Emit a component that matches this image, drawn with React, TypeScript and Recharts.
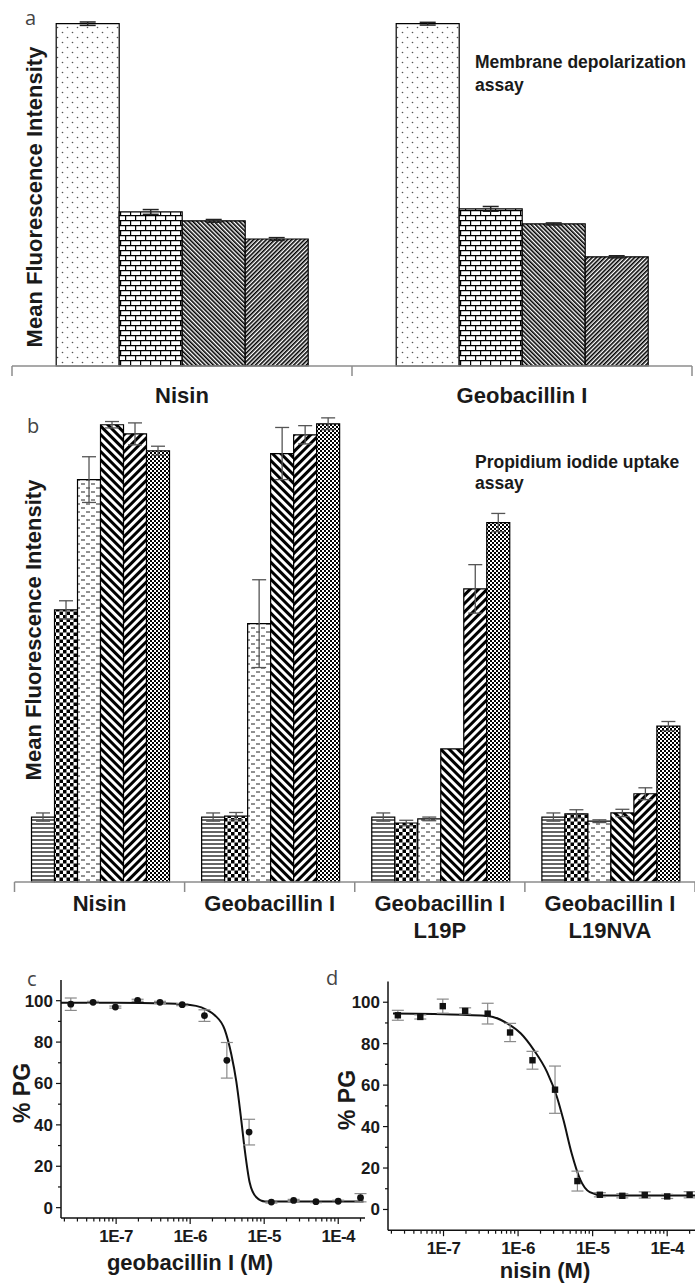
import React from 'react'
import {
  BarChart,
  Bar,
  XAxis,
  YAxis,
  ErrorBar,
  ComposedChart,
  Line,
  Scatter,
} from 'recharts'

const sans = '"Liberation Sans", Arial, Helvetica, sans-serif'
const thin = '"Open Sans", "DejaVu Sans", sans-serif'
const ink = '#1a1a1a'
const grayAxis = '#8c8c8c'

// ---- a: membrane depolarization ----
const catsA = ['Nisin', 'Geobacillin I']
const dotsA = [100, 100]
const dotsErrA = [0.5, 0.4]
const brickA = [45.0, 45.9]
const brickErrA = [0.7, 0.7]
const backA = [42.4, 41.5]
const backErrA = [0.4, 0.3]
const fwdA = [37.1, 31.9]
const fwdErrA = [0.4, 0.3]

// ---- b: propidium iodide uptake ----
const catsB = ['Nisin', 'Geobacillin I', 'Geobacillin I\nL19P', 'Geobacillin I\nL19NVA']
const hLinesB = [14.2, 14.2, 14.2, 14.2]
const hLinesErrB = [0.9, 0.9, 0.9, 0.9]
const checkB = [59.5, 14.4, 12.9, 14.9]
const checkErrB = [2.0, 0.8, 0.6, 0.9]
const dashB = [88.0, 56.5, 13.8, 13.3]
const dashErrB = [5.0, 9.6, 0.4, 0.3]
const backB = [100, 93.7, 29.1, 15.1]
const backErrB = [0.7, 5.7, 0, 0.8]
const fwdB = [98.0, 97.8, 64.1, 19.3]
const fwdErrB = [2.4, 2.0, 5.3, 1.3]
const fineB = [94.3, 100.2, 78.6, 34.1]
const fineErrB = [1.0, 1.3, 2.0, 1.0]

// ---- c / d: % PG vs concentration ----
const concM = [2.44e-8, 4.88e-8, 9.77e-8, 1.95e-7, 3.91e-7, 7.81e-7, 1.56e-6, 3.13e-6, 6.25e-6, 1.25e-5, 2.5e-5, 5e-5, 1e-4, 2e-4]
const pgGeo = [98.3, 99.2, 96.9, 100.2, 99.2, 98.1, 92.8, 71.2, 36.5, 2.7, 3.5, 2.9, 3.1, 4.8]
const pgGeoErr = [3.0, 0.5, 0.5, 0.5, 0.5, 0.5, 2.8, 8.6, 6.2, 0.5, 0.5, 0.5, 0.5, 2.0]
const fitGeoConc = [1.8e-8, 1e-7, 5e-7, 1.2e-6, 1.7e-6, 2.15e-6, 2.93e-6, 3.6e-6, 4.2e-6, 4.82e-6, 5.46e-6, 6.38e-6, 7.84e-6, 1.02e-5, 2e-5, 2.2e-4]
const fitGeoPg = [99.0, 99.0, 98.6, 97.5, 95.5, 93, 86, 74, 61, 44.5, 28, 12, 5, 3, 3, 3]

const pgNis = [93.7, 92.9, 98.1, 95.8, 94.5, 85.4, 72.0, 57.8, 13.7, 7.1, 6.6, 7.0, 6.3, 7.1]
const pgNisErr = [2.4, 1.0, 3.4, 1.5, 5.0, 4.4, 4.3, 11.4, 4.8, 1.0, 1.0, 1.5, 1.0, 1.5]
const fitNisConc = [2.1e-8, 1e-7, 3.94e-7, 7.24e-7, 1.09e-6, 1.63e-6, 2.45e-6, 3.32e-6, 4.07e-6, 5.25e-6, 6.75e-6, 9.16e-6, 1.38e-5, 2.36e-4]
const fitNisPg = [94.5, 94.2, 93.4, 89.7, 84.9, 76.9, 66.3, 54.3, 43, 26.9, 14.8, 8.4, 6.8, 6.8]

const majorX = [1e-7, 1e-6, 1e-5, 1e-4]
const majorXLabels = ['1E-7', '1E-6', '1E-5', '1E-4']
const minorSteps = [2, 3, 4, 5, 6, 7, 8, 9]
const pgTicks = [0, 10, 20, 30, 40, 50, 60, 70, 80, 90, 100]
const xDomain: [number, number] = [1.8e-8, 2.3e-4]

const xTicks = [1e-8, ...majorX]
  .flatMap((d) => [d, ...minorSteps.map((m) => d * m)])
  .filter((v) => v >= xDomain[0] && v <= xDomain[1])
  .sort((p, q) => p - q)

const dataA = catsA.map((name, i) => ({
  name,
  v1: dotsA[i], e1: dotsErrA[i],
  v2: brickA[i], e2: brickErrA[i],
  v3: backA[i], e3: backErrA[i],
  v4: fwdA[i], e4: fwdErrA[i],
}))

const dataB = catsB.map((name, i) => ({
  name,
  v1: hLinesB[i], e1: hLinesErrB[i],
  v2: checkB[i], e2: checkErrB[i],
  v3: dashB[i], e3: dashErrB[i],
  v4: backB[i], e4: backErrB[i],
  v5: fwdB[i], e5: fwdErrB[i],
  v6: fineB[i], e6: fineErrB[i],
}))

const pointsGeo = concM.map((x, i) => ({ x, y: pgGeo[i], err: pgGeoErr[i] }))
const pointsNis = concM.map((x, i) => ({ x, y: pgNis[i], err: pgNisErr[i] }))
const fitGeo = fitGeoConc.map((x, i) => ({ x, y: fitGeoPg[i] }))
const fitNis = fitNisConc.map((x, i) => ({ x, y: fitNisPg[i] }))

const fillsA = ['url(#aDots)', 'url(#aBrick)', 'url(#aBack)', 'url(#aFwd)']
const fillsB = ['url(#bLines)', 'url(#bCheck)', 'url(#bDash)', 'url(#bBack)', 'url(#bFwd)', 'url(#bFine)']

const defsA = (
  <defs>
    <pattern id="aDots" width={10} height={10} patternUnits="userSpaceOnUse">
      <rect width={10} height={10} fill="#fff" />
      <circle cx={2.5} cy={2.5} r={0.8} fill="#555" />
      <circle cx={7.5} cy={7.5} r={0.8} fill="#555" />
    </pattern>
    <pattern id="aBrick" width={10} height={10} patternUnits="userSpaceOnUse">
      <rect width={10} height={10} fill="#fff" />
      <path d="M0 0.6H10M0 5.6H10M0.6 0.6V5.6M5.6 5.6V10" stroke="#000" strokeWidth={1.2} fill="none" />
    </pattern>
    <pattern id="aBack" width={3} height={3} patternUnits="userSpaceOnUse" patternTransform="rotate(-45)">
      <rect width={3} height={3} fill="#fff" />
      <rect width={1.6} height={3} fill="#000" />
    </pattern>
    <pattern id="aFwd" width={3} height={3} patternUnits="userSpaceOnUse" patternTransform="rotate(45)">
      <rect width={3} height={3} fill="#fff" />
      <rect width={1.6} height={3} fill="#000" />
    </pattern>
  </defs>
)

const defsB = (
  <defs>
    <pattern id="bLines" width={4} height={4} patternUnits="userSpaceOnUse">
      <rect width={4} height={4} fill="#fff" />
      <rect y={1.4} width={4} height={1.2} fill="#000" />
    </pattern>
    <pattern id="bCheck" width={7} height={7} patternUnits="userSpaceOnUse">
      <rect width={7} height={7} fill="#fff" />
      <rect width={3.5} height={3.5} fill="#000" />
      <rect x={3.5} y={3.5} width={3.5} height={3.5} fill="#000" />
    </pattern>
    <pattern id="bDash" width={10} height={8} patternUnits="userSpaceOnUse">
      <rect width={10} height={8} fill="#fff" />
      <path d="M1 2H5M6 6H10" stroke="#222" strokeWidth={1} />
    </pattern>
    <pattern id="bBack" width={6} height={6} patternUnits="userSpaceOnUse" patternTransform="rotate(-45)">
      <rect width={6} height={6} fill="#fff" />
      <rect width={3} height={6} fill="#000" />
    </pattern>
    <pattern id="bFwd" width={6} height={6} patternUnits="userSpaceOnUse" patternTransform="rotate(45)">
      <rect width={6} height={6} fill="#fff" />
      <rect width={3} height={6} fill="#000" />
    </pattern>
    <pattern id="bFine" width={4} height={4} patternUnits="userSpaceOnUse">
      <rect width={4} height={4} fill="#fff" />
      <rect width={2} height={2} fill="#000" />
      <rect x={2} y={2} width={2} height={2} fill="#000" />
    </pattern>
  </defs>
)

function BandTick({ x = 0, y = 0, payload, index = 0, band, count, dy, gap }: any) {
  const lines = String(payload?.value ?? '').split('\n')
  const half = band / 2
  return (
    <g>
      <line x1={x - half} x2={x - half} y1={y} y2={y + 10} stroke={grayAxis} strokeWidth={1.5} />
      {index === count - 1 && (
        <line x1={x + half} x2={x + half} y1={y} y2={y + 10} stroke={grayAxis} strokeWidth={1.5} />
      )}
      <text x={x} y={y + dy} textAnchor="middle" fontFamily={sans} fontWeight={700} fontSize={22} fill={ink}>
        {lines.map((l, i) => (
          <tspan key={i} x={x} dy={i === 0 ? 0 : gap}>
            {l}
          </tspan>
        ))}
      </text>
    </g>
  )
}

function LogTick({ x = 0, y = 0, payload }: any) {
  const v = payload?.value ?? 0
  const k = majorX.findIndex((m) => Math.abs(m - v) / m < 1e-6)
  const major = k >= 0
  return (
    <g>
      <line x1={x} x2={x} y1={y} y2={y + (major ? 6 : 3.5)} stroke="#111" strokeWidth={1.2} />
      {major && (
        <text x={x} y={y + 24} textAnchor="middle" fontFamily={sans} fontWeight={700} fontSize={17} letterSpacing={-0.6} fill={ink}>
          {majorXLabels[k]}
        </text>
      )}
    </g>
  )
}

function PgTick({ x = 0, y = 0, payload }: any) {
  const v = payload?.value ?? 0
  const major = v % 20 === 0
  return (
    <g>
      <line x1={x} x2={x - (major ? 5 : 3)} y1={y} y2={y} stroke="#111" strokeWidth={1.2} />
      {major && (
        <text x={x - 8} y={y + 6} textAnchor="end" fontFamily={sans} fontWeight={700} fontSize={17} fill={ink}>
          {v}
        </text>
      )}
    </g>
  )
}

const dot = (p: any) => <circle cx={p.cx} cy={p.cy} r={3.4} fill="#111" />
const square = (p: any) => <rect x={p.cx - 3.2} y={p.cy - 3.2} width={6.4} height={6.4} fill="#111" />

function DoseChart({ points, fit, shape, domainY, width, height, top, xHeight, right }: any) {
  return (
    <ComposedChart width={width} height={height} margin={{ top, right, bottom: 0, left: 0 }}>
      <XAxis
        type="number"
        dataKey="x"
        scale="log"
        domain={xDomain}
        ticks={xTicks}
        interval={0}
        tick={(p: any) => <LogTick {...p} />}
        tickLine={false}
        tickSize={0}
        tickMargin={0}
        height={xHeight}
        axisLine={{ stroke: '#111', strokeWidth: 1.5 }}
      />
      <YAxis
        type="number"
        domain={domainY}
        ticks={pgTicks}
        interval={0}
        tick={(p: any) => <PgTick {...p} />}
        tickLine={false}
        tickSize={0}
        tickMargin={0}
        width={61}
        axisLine={{ stroke: '#111', strokeWidth: 1.5 }}
      />
      <Line data={fit} dataKey="y" type="monotone" stroke="#111" strokeWidth={2} dot={false} isAnimationActive={false} />
      <Scatter data={points} dataKey="y" shape={shape} isAnimationActive={false}>
        <ErrorBar dataKey="err" direction="y" width={6} stroke="#8a8a8a" strokeWidth={1.2} isAnimationActive={false} />
      </Scatter>
    </ComposedChart>
  )
}

const labelText = { fontFamily: sans, fontWeight: 700, fill: ink } as const

export default function App() {
  const bandA = (695 - 12 - 3) / catsA.length
  const bandB = (695 - 14.5) / catsB.length
  return (
    <div style={{ position: 'absolute', left: 0, top: 0, width: 695, height: 1288, background: '#fff', overflow: 'hidden' }}>
      <div style={{ position: 'absolute', left: 0, top: 0 }}>
        <BarChart width={695} height={420} data={dataA} margin={{ top: 10, right: 3, bottom: 0, left: 12 }} barCategoryGap="13%" barGap={0}>
          {defsA}
          <XAxis
            dataKey="name"
            interval={0}
            tickLine={false}
            tickSize={0}
            tickMargin={0}
            height={54}
            axisLine={{ stroke: grayAxis, strokeWidth: 1.5 }}
            tick={(p: any) => <BandTick {...p} band={bandA} count={catsA.length} dy={37} gap={27} />}
          />
          <YAxis hide domain={[0, 104]} />
          {fillsA.map((fill, i) => (
            <Bar key={i} dataKey={`v${i + 1}`} fill={fill} stroke="#000" strokeWidth={1.2} isAnimationActive={false}>
              <ErrorBar dataKey={`e${i + 1}`} direction="y" width={8} stroke="#222" strokeWidth={1.5} isAnimationActive={false} />
            </Bar>
          ))}
        </BarChart>
      </div>

      <div style={{ position: 'absolute', left: 0, top: 370 }}>
        <BarChart width={695} height={582} data={dataB} margin={{ top: 9, right: 0, bottom: 0, left: 14.5 }} barCategoryGap="10%" barGap={0}>
          {defsB}
          <XAxis
            dataKey="name"
            interval={0}
            tickLine={false}
            tickSize={0}
            tickMargin={0}
            height={70}
            axisLine={{ stroke: grayAxis, strokeWidth: 1.5 }}
            tick={(p: any) => <BandTick {...p} band={bandB} count={catsB.length} dy={29} gap={27} />}
          />
          <YAxis hide domain={[0, 110]} />
          {fillsB.map((fill, i) => (
            <Bar key={i} dataKey={`v${i + 1}`} fill={fill} stroke="#000" strokeWidth={1.2} isAnimationActive={false}>
              <ErrorBar dataKey={`e${i + 1}`} direction="y" width={7} stroke="#555" strokeWidth={1.3} isAnimationActive={false} />
            </Bar>
          ))}
        </BarChart>
      </div>

      <div style={{ position: 'absolute', left: 0, top: 960 }}>
        <DoseChart points={pointsGeo} fit={fitGeo} shape={dot} domainY={[-5, 110]} width={372} height={328} top={20} xHeight={70} right={7} />
      </div>
      <div style={{ position: 'absolute', left: 327, top: 960 }}>
        <DoseChart points={pointsNis} fit={fitNis} shape={square} domainY={[-10, 110]} width={368} height={328} top={21.5} xHeight={57.8} right={0} />
      </div>

      <svg width={695} height={1288} style={{ position: 'absolute', left: 0, top: 0, pointerEvents: 'none' }}>
        <text x={25} y={25} fontFamily={thin} fontSize={20} fill="#444">a</text>
        <text x={27} y={433} fontFamily={thin} fontSize={20} fill="#444">b</text>
        <text x={27} y={986} fontFamily={thin} fontSize={20} fill="#444">c</text>
        <text x={326} y={985} fontFamily={thin} fontSize={20} fill="#444">d</text>

        <text x={42} y={197} transform="rotate(-90 42 197)" textAnchor="middle" fontSize={22} {...labelText}>
          Mean Fluorescence Intensity
        </text>
        <text x={41} y={630} transform="rotate(-90 41 630)" textAnchor="middle" fontSize={22} {...labelText}>
          Mean Fluorescence Intensity
        </text>

        <text x={475} y={68} fontSize={17.5} {...labelText}>Membrane depolarization</text>
        <text x={475} y={91} fontSize={17.5} {...labelText}>assay</text>
        <text x={475} y={468} fontSize={17.5} {...labelText}>Propidium iodide uptake</text>
        <text x={475} y={489} fontSize={17.5} {...labelText}>assay</text>

        <text x={30} y={1093} transform="rotate(-90 30 1093)" textAnchor="middle" fontSize={23} {...labelText}>% PG</text>
        <text x={355} y={1100} transform="rotate(-90 355 1100)" textAnchor="middle" fontSize={23} {...labelText}>% PG</text>

        <text x={190} y={1270} textAnchor="middle" fontSize={22} {...labelText}>geobacillin I (M)</text>
        <text x={545} y={1278} textAnchor="middle" fontSize={22} {...labelText}>nisin (M)</text>
      </svg>
    </div>
  )
}
